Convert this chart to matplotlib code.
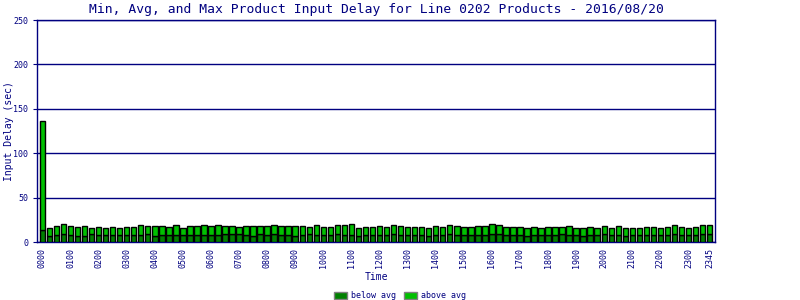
import numpy as np
import matplotlib.pyplot as plt

# quarter-hour slots 0000 .. 2345
times = ["%02d%02d" % (h, m) for h in range(24) for m in (0, 15, 30, 45)]

# average delay (dark part) and max delay (top of bar), seconds
avg_delay = [14, 7, 8, 9, 8, 7, 7, 9, 8, 8, 8, 8, 8, 8, 8, 9,
             7, 8, 8, 8, 8, 8, 8, 8, 8, 8, 9, 9, 9, 8, 7, 9,
             8, 9, 8, 8, 7, 8, 9, 8, 8, 8, 9, 8, 8, 7, 8, 8,
             8, 8, 9, 8, 8, 8, 8, 7, 8, 8, 9, 8, 8, 8, 8, 8,
             9, 9, 8, 8, 8, 7, 8, 8, 8, 8, 9, 8, 8, 7, 8, 8,
             9, 8, 8, 7, 8, 8, 8, 8, 8, 8, 9, 8, 8, 8, 9, 9]
max_delay = [136, 16, 18, 20, 18, 17, 18, 16, 17, 16, 17, 16, 17, 17, 19, 18,
             18, 18, 17, 19, 16, 18, 18, 19, 18, 19, 18, 18, 17, 18, 18, 18,
             18, 19, 18, 18, 18, 18, 17, 19, 17, 17, 19, 19, 20, 16, 17, 17,
             18, 17, 19, 18, 17, 17, 17, 16, 18, 17, 19, 18, 17, 17, 18, 18,
             20, 19, 17, 17, 17, 16, 17, 16, 17, 17, 17, 18, 16, 16, 17, 16,
             18, 16, 18, 16, 16, 16, 17, 17, 16, 17, 19, 17, 16, 17, 19, 19]

tick_labels = [t if t.endswith("00") else "" for t in times]
tick_labels[-1] = "2345"

navy = "#000080"
dark = "#008000"
light = "#00c000"

plt.rcParams['font.family'] = ['DejaVu Sans Mono']

fig = plt.figure(figsize=(8, 3), dpi=100)
ax = fig.add_axes([0.046, 0.193, 0.848, 0.74])

x = np.arange(len(times))
above = np.array(max_delay) - np.array(avg_delay)
ax.bar(x, avg_delay, width=0.78, color=dark, edgecolor="black", linewidth=1, label="below avg", zorder=3)
ax.bar(x, above, bottom=avg_delay, width=0.78, color=light, edgecolor="black", linewidth=1, label="above avg", zorder=3)

ax.set_xlim(-0.8, 95.8)
ax.set_ylim(0, 250)
ax.set_yticks([0, 50, 100, 150, 200, 250])
ax.yaxis.grid(True, color=navy, linewidth=1, zorder=0)

shown = [i for i, t in enumerate(tick_labels) if t]
ax.set_xticks(shown)
ax.set_xticklabels([tick_labels[i] for i in shown], rotation=90, fontsize=6, color=navy)
ax.tick_params(axis="x", length=0, pad=4)
ax.tick_params(axis="y", length=3, color=navy, labelsize=6, labelcolor=navy, pad=3)

for s in ax.spines.values():
    s.set_color(navy)
    s.set_linewidth(1)

ax.set_title("Min, Avg, and Max Product Input Delay for Line 0202 Products - 2016/08/20",
             fontsize=9.4, color=navy, pad=5)
ax.set_xlabel("Time", fontsize=7, color=navy, labelpad=3)
ax.set_ylabel("Input Delay (sec)", fontsize=7, color=navy)
ax.yaxis.set_label_coords(-0.033, 0.5)

leg = fig.legend(loc="lower center", bbox_to_anchor=(0.5, -0.025), ncol=2, frameon=False,
                 fontsize=6, handlelength=1.6, handleheight=0.9, columnspacing=1.0,
                 handletextpad=0.4)
for t in leg.get_texts():
    t.set_color(navy)
for h in leg.legend_handles:
    h.set_edgecolor("gray")

fig.savefig("out.png", dpi=100)
